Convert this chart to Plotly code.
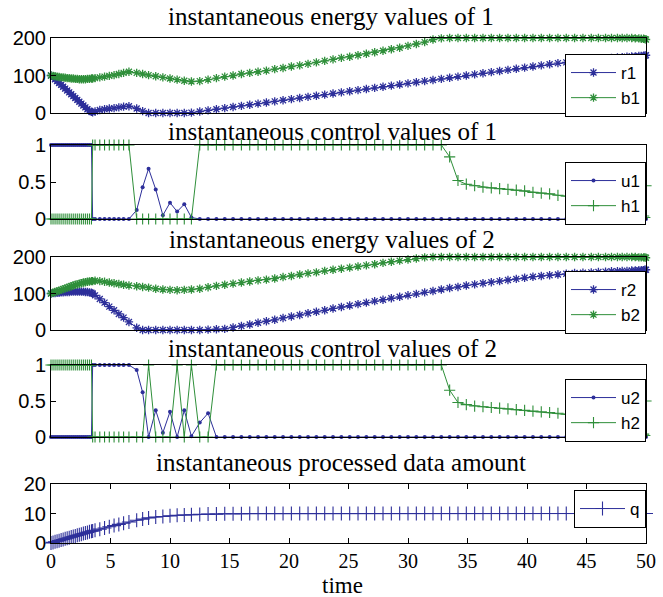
import plotly.graph_objects as go

# ---------------- data ----------------
t = [0, 0.17, 0.34, 0.51, 0.68, 0.85, 1.02, 1.19, 1.36, 1.53, 1.7, 1.87, 2.04, 2.21, 2.38, 2.55, 2.72, 2.89, 3.06, 3.23, 3.4,
     3.5, 3.7, 4.1, 4.5, 4.9, 5.3, 5.7, 6.1, 6.55,
     7.2, 7.7, 8.2, 8.8, 9.4, 10.0, 10.6, 11.2, 11.8,
     12.5, 13.2, 13.9, 14.6, 15.3, 16.0, 16.7, 17.4, 18.1, 18.8,
     19.5, 20.2, 20.9, 21.6, 22.3, 23.0, 23.7, 24.4, 25.1, 25.8,
     26.5, 27.2, 27.9, 28.6, 29.3, 30.0, 30.7, 31.4, 32.1, 32.8,
     33.5, 34.2, 34.9, 35.6, 36.3, 37.0, 37.7, 38.4, 39.1, 39.8,
     40.5, 41.2, 41.9, 42.6, 43.3, 44.0, 44.7, 45.4, 46.0, 46.6,
     47.1, 47.6, 48.0, 48.4, 48.8, 49.1, 49.4, 49.6, 49.8, 49.9, 50.0]

r1 = [100, 95, 90, 85, 80, 75, 70, 65, 60, 55, 50, 45, 40, 35, 30, 25, 20, 15, 10, 6, 3,
      2, 4, 8, 10, 12, 13, 15, 17, 18,
      12, 5, 0, 0, 0, 0, 0, 0, 1,
      4, 7, 10, 13, 16, 19, 22, 25, 28, 31,
      34, 37, 40, 43, 46, 49, 52, 55, 58, 61,
      64, 67, 70, 73, 76, 79, 82, 85, 88, 91,
      94, 97, 100, 103, 106, 109, 112, 115, 118, 121,
      124, 127, 130, 133, 135, 138, 140, 142, 144, 146,
      147, 148, 149, 150, 151, 151, 152, 152, 153, 153, 154]

b1 = [100, 99, 98, 97, 96, 95, 95, 94, 93, 93, 92, 92, 91, 91, 90, 90, 90, 90, 91, 91, 92,
      92, 93, 95, 97, 99, 101, 104, 107, 110,
      107, 104, 101, 98, 95, 92, 89, 86, 84,
      85, 89, 93, 97, 100, 104, 107, 110, 113, 117,
      120, 124, 127, 131, 135, 139, 143, 147, 150, 154,
      158, 162, 166, 170, 174, 179, 184, 189, 196, 199,
      200, 200, 200, 200, 200, 200, 200, 200, 200, 200,
      200, 200, 200, 200, 200, 200, 200, 200, 200, 200,
      200, 200, 200, 200, 200, 199, 199, 198, 198, 197, 196]

u1 = [1, 1, 1, 1, 1, 1, 1, 1, 1, 1, 1, 1, 1, 1, 1, 1, 1, 1, 1, 1, 1,
      0, 0, 0, 0, 0, 0, 0, 0, 0,
      0.12, 0.43, 0.68, 0.40, 0.05, 0.22, 0.10, 0.20, 0.02,
      0, 0, 0, 0, 0, 0, 0, 0, 0, 0,
      0, 0, 0, 0, 0, 0, 0, 0, 0, 0,
      0, 0, 0, 0, 0, 0, 0, 0, 0, 0,
      0, 0, 0, 0, 0, 0, 0, 0, 0, 0,
      0, 0, 0, 0, 0, 0, 0, 0, 0, 0,
      0, 0, 0, 0, 0, 0, 0, 0, 0, 0, 0]

h1 = [0, 0, 0, 0, 0, 0, 0, 0, 0, 0, 0, 0, 0, 0, 0, 0, 0, 0, 0, 0, 0,
      1, 1, 1, 1, 1, 1, 1, 1, 1,
      0, 0, 0, 0, 0, 0, 0, 0, 0,
      1, 1, 1, 1, 1, 1, 1, 1, 1, 1,
      1, 1, 1, 1, 1, 1, 1, 1, 1, 1,
      1, 1, 1, 1, 1, 1, 1, 1, 1, 1,
      0.84, 0.52, 0.47, 0.45, 0.43, 0.42, 0.41, 0.40, 0.39, 0.38,
      0.36, 0.35, 0.34, 0.32, 0.31, 0.29, 0.27, 0.25, 0.23, 0.21,
      0.19, 0.17, 0.16, 0.14, 0.12, 0.10, 0.08, 0.06, 0.04, 0.02, 0.45]

r2 = [100, 101, 101, 102, 102, 103, 103, 104, 104, 104, 105, 105, 105, 105, 105, 105, 105, 104, 104, 103, 102,
      100, 95, 85, 75, 64, 54, 44, 34, 22,
      6, 0, 0, 0, 0, 0, 0, 0, 0,
      0, 1, 2, 3, 7, 11, 15, 20, 24, 28,
      33, 37, 41, 46, 50, 54, 59, 63, 67, 71,
      75, 79, 83, 87, 91, 95, 99, 103, 107, 111,
      115, 118, 122, 125, 128, 131, 134, 137, 140, 143,
      146, 148, 150, 152, 154, 156, 157, 158, 159, 160,
      161, 161, 162, 162, 163, 163, 164, 164, 164, 165, 165]

b2 = [100, 102, 104, 106, 108, 110, 112, 114, 116, 118, 120, 122, 124, 125, 127, 128, 130, 131, 132, 133, 134,
      134, 135, 134, 132, 130, 128, 126, 124, 122,
      120, 118, 116, 113, 111, 110, 109, 110, 111,
      113, 117, 121, 124, 127, 130, 133, 136, 138, 141,
      145, 148, 152, 155, 158, 162, 165, 168, 171, 174,
      177, 180, 184, 187, 190, 193, 196, 199, 200, 200,
      200, 200, 200, 200, 200, 200, 200, 200, 200, 200,
      200, 200, 200, 200, 200, 200, 200, 200, 200, 200,
      200, 200, 200, 200, 200, 200, 199, 199, 199, 199, 198]

u2 = [0, 0, 0, 0, 0, 0, 0, 0, 0, 0, 0, 0, 0, 0, 0, 0, 0, 0, 0, 0, 0,
      1, 1, 1, 1, 1, 1, 1, 1, 1,
      0.93, 0.62, 0, 0.37, 0.06, 0.35, 0, 0.37, 0.01,
      0.20, 0.33, 0, 0, 0, 0, 0, 0, 0, 0,
      0, 0, 0, 0, 0, 0, 0, 0, 0, 0,
      0, 0, 0, 0, 0, 0, 0, 0, 0, 0,
      0, 0, 0, 0, 0, 0, 0, 0, 0, 0,
      0, 0, 0, 0, 0, 0, 0, 0, 0, 0,
      0, 0, 0, 0, 0, 0, 0, 0, 0, 0, 0]

h2 = [1, 1, 1, 1, 1, 1, 1, 1, 1, 1, 1, 1, 1, 1, 1, 1, 1, 1, 1, 1, 1,
      0, 0, 0, 0, 0, 0, 0, 0, 0,
      0, 0, 1, 0, 0, 0, 1, 0, 1,
      0, 0, 1, 1, 1, 1, 1, 1, 1, 1,
      1, 1, 1, 1, 1, 1, 1, 1, 1, 1,
      1, 1, 1, 1, 1, 1, 1, 1, 1, 1,
      0.65, 0.48, 0.45, 0.43, 0.42, 0.41, 0.40, 0.39, 0.38, 0.37,
      0.36, 0.35, 0.34, 0.33, 0.32, 0.30, 0.28, 0.26, 0.24, 0.22,
      0.20, 0.18, 0.16, 0.14, 0.12, 0.10, 0.08, 0.06, 0.04, 0.02, 0.50]

q = [0, 0.2, 0.4, 0.6, 0.8, 1.0, 1.2, 1.4, 1.6, 1.8, 2.0, 2.2, 2.4, 2.6, 2.8, 3.0, 3.2, 3.4, 3.6, 3.8, 4.0,
     4.1, 4.3, 4.7, 5.1, 5.5, 5.9, 6.3, 6.7, 7.1,
     7.7, 8.1, 8.5, 8.8, 9.0, 9.2, 9.4, 9.5, 9.6,
     9.7, 9.8, 9.8, 9.9, 9.9, 9.9, 10, 10, 10, 10,
     10, 10, 10, 10, 10, 10, 10, 10, 10, 10,
     10, 10, 10, 10, 10, 10, 10, 10, 10, 10,
     10, 10, 10, 10, 10, 10, 10, 10, 10, 10,
     10, 10, 10, 10, 10, 10, 10, 10, 10, 10,
     10, 10, 10, 10, 10, 10, 10, 10, 10, 10, 10]

titles = ["instantaneous energy values of 1", "instantaneous control values of 1",
          "instantaneous energy values of 2", "instantaneous control values of 2",
          "instantaneous processed data amount"]
x_ticks = [0, 5, 10, 15, 20, 25, 30, 35, 40, 45, 50]
energy_ticks = [0, 100, 200]
control_ticks = [0, 0.5, 1]
control_tick_text = ["0", "0.5", "1"]
q_ticks = [0, 10, 20]

for s in (r1, b1, u1, h1, r2, b2, u2, h2, q):
    assert len(s) == len(t), len(s)

# ---------------- style ----------------
BLUE = "#2d2f9a"
GREEN = "#2f8f3a"
SANS = "Liberation Sans, Arial, sans-serif"
SERIF = "Liberation Serif, Times New Roman, serif"

W, H = 663, 597
ML, MR, MT, MB = 51, 17, 38, 54
ph = H - MT - MB


def frac(py):
    return (H - MB - py) / ph


domains = [(frac(113), frac(38)), (frac(219), frac(145)), (frac(330), frac(257)),
           (frac(437), frac(365)), (frac(543), frac(484))]

fig = go.Figure()


def axes(k):
    return ("x" if k == 1 else f"x{k}"), ("y" if k == 1 else f"y{k}")


def star(name, y, color, k, leg):
    xa, ya = axes(k)
    fig.add_trace(go.Scatter(x=t, y=y, name=name, mode="lines+markers",
                             line=dict(color=color, width=1),
                             marker=dict(symbol="asterisk-open", size=7, color=color,
                                         line=dict(color=color, width=1.3)),
                             xaxis=xa, yaxis=ya, legend=leg, cliponaxis=False))


def dot(name, y, color, k, leg):
    xa, ya = axes(k)
    fig.add_trace(go.Scatter(x=t, y=y, name=name, mode="lines+markers",
                             line=dict(color=color, width=1),
                             marker=dict(symbol="circle", size=4, color=color),
                             xaxis=xa, yaxis=ya, legend=leg, cliponaxis=False))


def plus(name, y, color, k, leg, size=8):
    xa, ya = axes(k)
    fig.add_trace(go.Scatter(x=t, y=y, name=name, mode="lines+markers",
                             line=dict(color=color, width=1),
                             marker=dict(symbol="cross-thin-open", size=size, color=color,
                                         line=dict(color=color, width=1.1)),
                             xaxis=xa, yaxis=ya, legend=leg, cliponaxis=False))


star("r1", r1, BLUE, 1, "legend")
star("b1", b1, GREEN, 1, "legend")
dot("u1", u1, BLUE, 2, "legend2")
plus("h1", h1, GREEN, 2, "legend2")
star("r2", r2, BLUE, 3, "legend3")
star("b2", b2, GREEN, 3, "legend3")
dot("u2", u2, BLUE, 4, "legend4")
plus("h2", h2, GREEN, 4, "legend4")
plus("q", q, BLUE, 5, "legend5", size=10)

layout = dict(template="none", width=W, height=H, margin=dict(l=ML, r=MR, t=MT, b=MB, autoexpand=False),
              paper_bgcolor="white", plot_bgcolor="white", showlegend=True)

yranges = [[0, 200], [0, 1], [0, 200], [0, 1], [0, 20]]
ytv = [energy_ticks, control_ticks, energy_ticks, control_ticks, q_ticks]
ytt = [[str(v) for v in energy_ticks], control_tick_text, [str(v) for v in energy_ticks],
       control_tick_text, [str(v) for v in q_ticks]]

for i in range(5):
    k = i + 1
    xn = "xaxis" if k == 1 else f"xaxis{k}"
    yn = "yaxis" if k == 1 else f"yaxis{k}"
    xa, ya = axes(k)
    last = k == 5
    layout[xn] = dict(domain=[0, 1], range=[0, 50], anchor=ya, automargin=False,
                      showline=True, linecolor="black", linewidth=1, mirror="ticks" if last else True,
                      showgrid=False, zeroline=False,
                      tickvals=x_ticks if last else [], ticks="inside" if last else "",
                      ticklen=5, tickcolor="black",
                      showticklabels=last, tickfont=dict(family=SERIF, size=20, color="black"))
    layout[yn] = dict(domain=list(domains[i]), range=yranges[i], anchor=xa, automargin=False,
                      showline=True, linecolor="black", linewidth=1, mirror="ticks",
                      showgrid=False, zeroline=False, tickvals=ytv[i], ticktext=ytt[i],
                      ticks="inside", ticklen=5, tickcolor="black",
                      tickfont=dict(family=SANS, size=20, color="black"))

leg_tops = [54, 162, 271, 379, 490]
for i in range(5):
    ln = "legend" if i == 0 else f"legend{i + 1}"
    layout[ln] = dict(x=1, xanchor="right", y=frac(leg_tops[i]), yanchor="top",
                      bgcolor="white", bordercolor="black", borderwidth=1,
                      font=dict(family=SANS, size=17, color="black"),
                      itemwidth=45, tracegroupgap=0)

fig.update_layout(**layout)

title_y = [17, 131, 239, 348, 462]
title_x = [0.47, 0.473, 0.473, 0.473, 0.487]
for i in range(5):
    fig.add_annotation(text=titles[i], xref="paper", yref="paper", x=title_x[i], y=frac(title_y[i]),
                       xanchor="center", yanchor="middle", showarrow=False,
                       font=dict(family=SERIF, size=25, color="black"))
fig.add_annotation(text="time", xref="paper", yref="paper", x=0.49, y=frac(585),
                   xanchor="center", yanchor="middle", showarrow=False,
                   font=dict(family=SERIF, size=23, color="black"))

fig.write_html("out.html", config={"displayModeBar": False},
               post_script="document.body.style.margin='0';document.body.style.overflow='hidden';")
